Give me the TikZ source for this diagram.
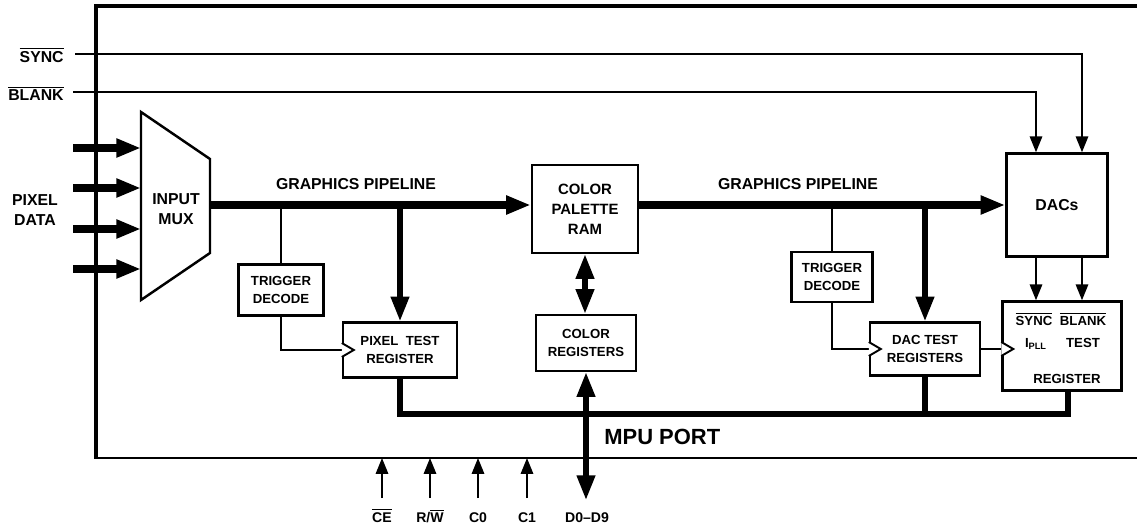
\documentclass[tikz,border=0pt]{standalone}
\usepackage{fontspec}
\setmainfont{Liberation Sans}
\usetikzlibrary{arrows.meta,calc}

\newcommand{\ovl}[1]{$\overline{\mbox{#1}}$}

\tikzset{
  box/.style={draw,line width=1.4pt,fill=white,align=center,inner sep=0pt,
    font=\bfseries\fontsize{8.5}{11.4}\selectfont},
  smallbox/.style={box,font=\bfseries\fontsize{7.5}{10}\selectfont},
  lbl/.style={align=center,inner sep=0pt,font=\bfseries\fontsize{9}{11.4}\selectfont},
  tiny/.style={inner sep=0pt,font=\bfseries\fontsize{7.5}{9}\selectfont},
  pipe/.style={line width=4pt},
  busline/.style={line width=3pt,line join=miter},
  sig/.style={line width=1.1pt},
  bigtip/.style={-{Triangle[length=14pt,width=10pt]}},
  thintip/.style={-{Triangle[length=9pt,width=7pt]}},
  clk/.style={sig,fill=white}
}

\begin{document}
\begin{tikzpicture}[x=0.02cm,y=-0.02cm]
    \useasboundingbox (0,0) rectangle (1137,527);
    % chip outline, open to the right
    \draw[line width=2.2pt] (1137,6) -- (96,6) -- (96,459);
    \draw[line width=1.5pt] (95,458) -- (1137,458);

    % blocks
    \node[box,minimum width=2.12cm,minimum height=1.76cm] (ram) at (585,209) {COLOR\\PALETTE\\RAM};
    \node[smallbox,minimum width=2cm,minimum height=1.12cm] (creg) at (586,343) {COLOR\\REGISTERS};
    \node[smallbox,minimum width=1.7cm,minimum height=1.02cm] (trig1) at (281,290) {TRIGGER\\DECODE};
    \node[smallbox,minimum width=2.28cm,minimum height=1.1cm] (ptr) at (400,350) {PIXEL\ \ TEST\\REGISTER};
    \node[smallbox,minimum width=1.62cm,minimum height=1cm] (trig2) at (832,277) {TRIGGER\\DECODE};
    \node[smallbox,minimum width=2.2cm,minimum height=1.06cm] (dtr) at (925,349) {DAC TEST\\REGISTERS};
    \node[box,font=\bfseries\fontsize{9}{11}\selectfont,minimum width=2.02cm,minimum height=2.06cm] (dacs) at (1057,205) {DACs};
    \node[box,minimum width=2.38cm,minimum height=1.78cm] (treg) at (1062,346) {};
    \node[tiny,anchor=base] (tsync) at (1034,325) {\ovl{SYNC}};
    \node[tiny,anchor=base] (tblank) at (1083,325) {\ovl{BLANK}};
    \node[tiny,anchor=base] (tipll) at (1036,347) {I\textsubscript{PLL}};
    \node[tiny,anchor=base] (ttest) at (1083,347) {TEST};
    \node[tiny,anchor=base] (tregister) at (1067,383) {REGISTER};

    % input mux
    \draw[line width=1.4pt] (141,112) -- (210,159) -- (210,253) -- (141,300) -- cycle;
    \node[lbl] (mux) at (176,209) {INPUT\\MUX};
    \node[lbl] (pix) at (35,210) {PIXEL\\DATA};
    \foreach \y in {148,188,229,269}
        \draw[pipe,bigtip] (73,\y) -- (141,\y);

    % sync and blank
    \node[lbl,anchor=east] (sync) at (64,55) {\ovl{SYNC}};
    \node[lbl,anchor=east] (blank) at (64,93) {\ovl{BLANK}};
    \coordinate (syncin) at (75,54);
    \coordinate (blankin) at (73,92);
    \draw[sig,thintip] (syncin) -| ([xshift=0.5cm]dacs.north);
    \draw[sig,thintip] (blankin) -| ([xshift=-0.42cm]dacs.north);
    \draw[sig,thintip] ([xshift=-0.42cm]dacs.south) -- ([xshift=-0.42cm]dacs.south |- treg.north);
    \draw[sig,thintip] ([xshift=0.5cm]dacs.south) -- ([xshift=0.5cm]dacs.south |- treg.north);

    % graphics pipeline
    \coordinate (p1) at (210,205);
    \draw[pipe,bigtip] (p1) -- (p1 -| ram.west);
    \draw[pipe,bigtip] (ram.east |- p1) -- (dacs.west |- p1);
    \node[lbl] (gp1) at (356,184) {GRAPHICS PIPELINE};
    \node[lbl] (gp2) at (798,184) {GRAPHICS PIPELINE};

    % test registers
    \draw[sig] (p1 -| trig1.north) -- (trig1.north);
    \draw[sig] (trig1.south) |- (ptr.west);
    \draw[clk] ([yshift=0.14cm]ptr.west) -- ++(12,7) -- ++(-12,7);
    \draw[busline,bigtip] (p1 -| ptr.north) -- (ptr.north);
    \draw[sig] (p1 -| trig2.north) -- (trig2.north);
    \draw[sig] (trig2.south) |- (dtr.west);
    \draw[clk] ([yshift=0.14cm]dtr.west) -- ++(12,7) -- ++(-12,7);
    \draw[busline,bigtip] (p1 -| dtr.north) -- (dtr.north);
    \draw[sig] (dtr.east) -- (dtr.east -| treg.west);
    \draw[clk] ([yshift=0.14cm]dtr.east -| treg.west) -- ++(12,7) -- ++(-12,7);

    % palette and mpu bus
    \draw[busline,{Triangle[length=14pt,width=10pt]}-{Triangle[length=14pt,width=10pt]}] (ram.south) -- (ram.south |- creg.north);
    \coordinate (busr) at (1068,414);
    \draw[busline] (ptr.south) |- (busr) -- (busr |- treg.south);
    \draw[busline] (dtr.south) -- (dtr.south |- busr);
    \coordinate (dbus) at (586,500);
    \draw[busline,{Triangle[length=14pt,width=10pt]}-{Triangle[length=14pt,width=10pt]}] (dbus) -- (dbus |- creg.south);
    \node[inner sep=0pt,anchor=west,font=\bfseries\fontsize{12.5}{14}\selectfont] (mpu) at (604,437) {MPU PORT};

    % control inputs
    \foreach \x/\t/\n in {382/{\ovl{CE}}/ce,430/{R/\ovl{W}}/rw,478/C0/czero,527/C1/cone}{
        \node[tiny,font=\bfseries\fontsize{8}{9}\selectfont,anchor=base] (\n) at (\x,522) {\t};
        \draw[sig,thintip] (\x,498) -- (\x,458);
    }
    \node[tiny,font=\bfseries\fontsize{8}{9}\selectfont,anchor=base] (dnode) at (587,522) {D0--D9};
\end{tikzpicture}
\end{document}
